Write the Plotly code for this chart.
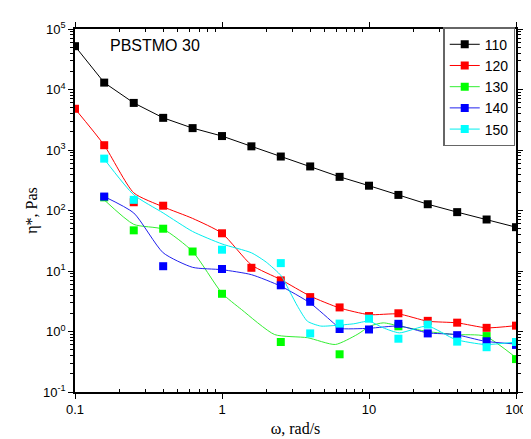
import plotly.graph_objects as go

# ---------------- data ----------------
omega = [0.1, 0.158, 0.251, 0.398, 0.631, 1.0, 1.585, 2.512, 3.98, 6.31,
         10.0, 15.85, 25.1, 39.8, 63.1, 100.0]

# T = 110 (all points, straight segments)
eta_110 = [52000, 13000, 6000, 3400, 2300, 1700, 1150, 780, 535, 360,
           257, 181, 127, 94, 71, 53]

# T = 120 markers
w_120 = [0.1, 0.158, 0.251, 0.398, 1.0, 1.585, 2.512, 3.98, 6.31, 10.0,
         15.85, 25.1, 39.8, 63.1, 100.0]
eta_120 = [4800, 1200, 137, 120, 42, 11.3, 7.0, 3.7, 2.5, 1.8,
           2.0, 1.5, 1.4, 1.15, 1.25]
# T = 120 fitted curve
wf_120 = [0.1, 0.158, 0.251, 0.398, 0.631, 1.0, 1.585, 2.512, 3.98, 6.31,
          10.0, 15.85, 25.1, 39.8, 63.1, 100.0]
ef_120 = [4800, 1200, 196, 115, 74, 42, 12.6, 7.2, 3.85, 2.45,
          1.9, 1.95, 1.48, 1.39, 1.15, 1.25]

# T = 130 markers
w_130 = [0.158, 0.251, 0.398, 0.631, 1.0, 2.512, 6.31, 15.85, 63.1, 100.0]
eta_130 = [165, 47, 50, 21, 4.2, 0.67, 0.42, 1.22, 0.84, 0.35]
# T = 130 fitted curve
wf_130 = [0.158, 0.251, 0.398, 0.631, 1.0, 1.36, 2.28, 3.81, 5.9, 8.3,
          10.2, 12.5, 16.1, 25.0, 38.7, 61.6, 100.0]
ef_130 = [150, 59, 49, 21, 4.3, 2.3, 0.89, 0.79, 0.61, 0.89,
          1.23, 1.39, 1.23, 1.0, 0.89, 0.84, 0.37]

# T = 140 markers
w_140 = [0.158, 0.398, 1.0, 2.512, 3.98, 6.31, 10.0, 15.85, 25.1, 39.8, 63.1, 100.0]
eta_140 = [170, 12, 10.8, 5.8, 3.1, 1.1, 1.08, 1.34, 0.93, 0.87, 0.69, 0.6]
# T = 140 fitted curve
wf_140 = [0.158, 0.251, 0.398, 0.631, 1.0, 1.585, 2.512, 3.98, 5.9, 6.31,
          10.0, 16.1, 25.0, 38.7, 61.6, 100.0]
ef_140 = [170, 91, 20, 11.5, 10.5, 8.7, 5.6, 2.95, 1.3, 1.13,
          1.13, 1.23, 0.95, 0.89, 0.69, 0.62]

# T = 150 markers
w_150 = [0.158, 0.251, 1.0, 2.512, 3.98, 6.31, 10.0, 15.85, 25.1, 39.8, 63.1, 100.0]
eta_150 = [720, 150, 22.5, 13.5, 0.93, 1.35, 1.63, 0.76, 1.3, 0.68, 0.55, 0.67]
# T = 150 fitted curve
wf_150 = [0.158, 0.251, 0.398, 0.631, 1.0, 1.585, 2.0, 2.53, 2.9, 3.27, 3.81, 4.69,
          5.9, 7.86, 10.0, 12.5, 16.1, 25.0, 38.7, 61.6, 100.0]
ef_150 = [710, 182, 91, 45, 28, 20, 14, 8.3, 4.5, 2.6, 1.48, 1.23,
          1.26, 1.34, 1.48, 1.15, 0.95, 1.23, 0.74, 0.61, 0.67]

labels = ["110", "120", "130", "140", "150"]
colors = ["#000000", "#ff0000", "#00ff00", "#0000ff", "#00ffff"]
line_colors = ["#000000", "#ff0000", "#33ee33", "#2222ee", "#00eeee"]

x_ticks = [0.1, 1, 10, 100]
x_ticktext = ["0.1", "1", "10", "100"]
y_ticks = [0.1, 1, 10, 100, 1000, 10000, 100000]
y_ticktext = ["10<sup>-1</sup>", "10<sup>0</sup>", "10<sup>1</sup>", "10<sup>2</sup>",
              "10<sup>3</sup>", "10<sup>4</sup>", "10<sup>5</sup>"]


def minor_positions(decades):
    return [m * 10.0 ** d for d in decades for m in range(2, 10)]


x_minor = minor_positions(range(-1, 2))
y_minor = minor_positions(range(-1, 5))

# ---------------- figure ----------------
fig = go.Figure()
msize = 8

# 110: straight connected
fig.add_trace(go.Scatter(x=omega, y=eta_110, mode="lines+markers", name=labels[0],
                         line=dict(color=line_colors[0], width=1),
                         marker=dict(symbol="square", size=msize, color=colors[0])))

series = [(w_120, eta_120, wf_120, ef_120),
          (w_130, eta_130, wf_130, ef_130),
          (w_140, eta_140, wf_140, ef_140),
          (w_150, eta_150, wf_150, ef_150)]

for i, (wm, em, wf, ef) in enumerate(series, start=1):
    fig.add_trace(go.Scatter(x=wf, y=ef, mode="lines", showlegend=False,
                             line=dict(color=line_colors[i], width=1, shape="spline",
                                       smoothing=0.6),
                             hoverinfo="skip"))
    fig.add_trace(go.Scatter(x=wm, y=em, mode="markers", showlegend=False,
                             marker=dict(symbol="square", size=msize, color=colors[i])))

for i in range(1, 5):
    fig.add_trace(go.Scatter(x=[None], y=[None], mode="lines+markers", name=labels[i],
                             line=dict(color=line_colors[i], width=1),
                             marker=dict(symbol="square", size=msize, color=colors[i])))

axis_common = dict(showline=True, linecolor="black", linewidth=1.5, mirror="allticks",
                   showgrid=False, zeroline=False, ticks="outside", ticklen=5,
                   tickwidth=1, tickcolor="black",
                   tickfont=dict(family="Liberation Sans, Arial", size=13, color="black"))

fig.update_xaxes(type="log", range=[-1, 2], tickmode="array", tickvals=x_ticks,
                 ticktext=x_ticktext,
                 minor=dict(ticks="inside", ticklen=3, tickcolor="black", tickwidth=1,
                            tickmode="array", tickvals=x_minor, showgrid=False),
                 title=dict(text="ω, rad/s", font=dict(family="Liberation Serif, Times New Roman",
                                                       size=16, color="black"),
                            standoff=6),
                 **axis_common)
fig.update_yaxes(type="log", range=[-1, 5], tickmode="array", tickvals=y_ticks,
                 ticktext=y_ticktext,
                 minor=dict(ticks="outside", ticklen=3, tickcolor="black", tickwidth=1,
                            tickmode="array", tickvals=y_minor, showgrid=False),
                 title=dict(text="η*, Pas", font=dict(family="Liberation Serif, Times New Roman",
                                                      size=16, color="black"),
                            standoff=1),
                 **axis_common)

fig.add_annotation(x=0.075, y=0.955, xref="paper", yref="paper", text="PBSTMO 30",
                   showarrow=False, xanchor="left", yanchor="middle",
                   font=dict(family="Liberation Sans, Arial", size=16, color="black"))

fig.update_layout(
    width=531, height=439,
    margin=dict(l=67, r=13, t=21, b=50),
    paper_bgcolor="white", plot_bgcolor="white",
    legend=dict(x=0.835, y=1.005, xanchor="left", yanchor="top",
                bgcolor="white", bordercolor="#666666", borderwidth=1.5,
                font=dict(family="Liberation Sans, Arial", size=14, color="black"),
                tracegroupgap=0, itemwidth=30),
    showlegend=True,
)

fig.write_html("out.html")
